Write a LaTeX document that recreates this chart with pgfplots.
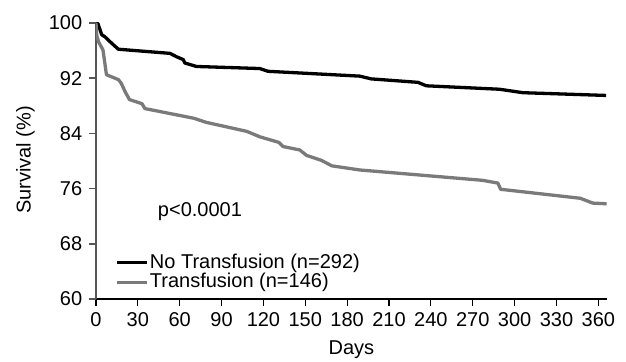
\documentclass[border=0pt]{standalone}
\usepackage{pgfplots}
\pgfplotsset{compat=1.18}
\usepackage{fontspec}
\setmainfont{Liberation Sans}
\definecolor{curvegray}{RGB}{122,122,122}
\definecolor{axisgray}{RGB}{85,85,85}
\begin{document}
\fontsize{20bp}{24bp}\selectfont
\begin{tikzpicture}
\useasboundingbox (-96bp,-63bp) rectangle (530bp,299bp);
\begin{axis}[
  at={(0,0)}, anchor=south west,
  scale only axis,
  width=510.7bp, height=276bp,
  xmin=0, xmax=366, ymin=60, ymax=100,
  axis lines*=left,
  x axis line style={black, line width=1.2bp},
  y axis line style={axisgray, line width=1.5bp},
  xtick={0,30,...,360},
  ytick={60,68,...,100},
  tick align=outside,
  major tick length=7bp,
  x tick style={black, line width=1.2bp},
  y tick style={axisgray, line width=1.5bp},
  /pgf/number format/assume math mode=true,
  xlabel={Days},
  ylabel={Survival (\%)},
  xlabel style={at={(axis description cs:0.5,-0.185)}, anchor=center},
  ylabel style={at={(axis description cs:-0.138,0.504)}, anchor=center, rotate=0},
  legend style={draw=none, fill=none, at={(axis description cs:0.038,0.025)}, anchor=south west,
    inner sep=0pt, nodes={inner sep=1bp}, row sep=0bp,
    /tikz/every even column/.append style={column sep=8bp}},
  legend cell align=left,
  legend image code/.code={\draw[#1] (0bp,0bp) -- (30bp,0bp);},
]
\addplot[black, line width=3.3bp, line join=round] coordinates {
(0,100) (1.4,99.9) (4.1,98.3) (6.4,98.0) (10,97.3) (16,96.2) (53,95.6) (57.8,95.1)
(62.5,94.7) (63.7,94.2) (72,93.7) (117.4,93.4) (123.3,93.0) (189,92.3) (197.3,91.9)
(230.7,91.4) (236.7,90.9) (289.2,90.4) (305.9,89.9) (365.6,89.5)
};
\addlegendentry{No Transfusion (n=292)}
\addplot[curvegray, line width=3.3bp, line join=round] coordinates {
(0,100) (0.5,98.2) (2,97.2) (5,96.1) (7.5,92.5) (16,91.8) (18,91.3) (21,90.0) (24,88.9)
(33,88.3) (35,87.6) (70,86.2) (79,85.6) (108,84.3) (117.5,83.5) (131,82.7) (134,82.1)
(146,81.6) (151,80.8) (161.5,80.1) (169,79.3) (189,78.7) (277,77.2) (288,76.8) (290,75.9)
(347,74.6) (356,73.9) (366,73.8)
};
\addlegendentry{Transfusion (n=146)}
\node[anchor=west, inner sep=0pt] at (axis description cs:0.121,0.315) {p<0.0001};
\end{axis}
\end{tikzpicture}
\end{document}
